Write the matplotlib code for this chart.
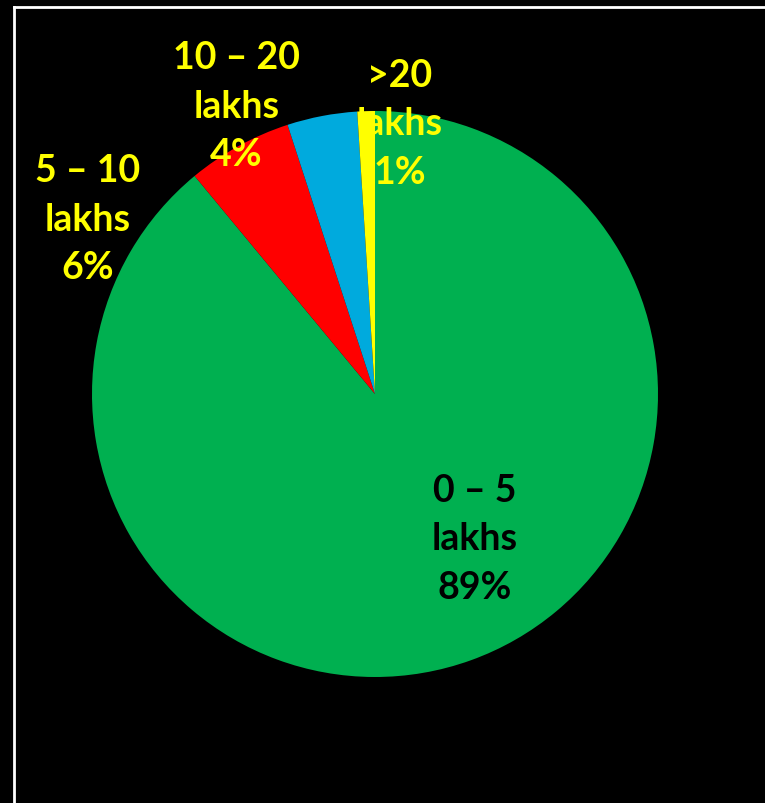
import numpy as np
import matplotlib.pyplot as plt

# data
categories = ['0 – 5\nlakhs', '5 – 10\nlakhs', '10 – 20\nlakhs', '>20\nlakhs']
shares = [89, 6, 4, 1]
colors = ['#00B050', '#FF0000', '#00AADD', '#FFFF00']
label_colors = ['black', '#FFFF00', '#FFFF00', '#FFFF00']
# label placement (angle deg, radius) relative to pie centre
label_pos = [(-55.4, 0.62), (148.6, 1.19), (115.7, 1.13), (84.7, 0.96)]

W, H = 765, 804
cx, cy, R = 375, 395, 283

fig = plt.figure(figsize=(W / 100, H / 100), dpi=100, facecolor='black')
ax = fig.add_axes([0, 0, 1, 1])
ax.set_facecolor('black')

ax.pie(shares, colors=colors, startangle=90, counterclock=False,
       radius=1.0, wedgeprops=dict(linewidth=0))

for cat, v, c, (ang, r) in zip(categories, shares, label_colors, label_pos):
    a = np.deg2rad(ang)
    ax.text(r * np.cos(a), r * np.sin(a), '%s\n%d%%' % (cat, v),
            ha='center', va='center', color=c, fontsize=27,
            fontweight='bold', family='Lato', linespacing=1.52)

ax.set_xlim(-cx / R, (W - cx) / R)
ax.set_ylim(-(H - cy) / R, cy / R)
ax.set_aspect('equal')
ax.axis('off')

# white frame line (left and top)
fig.add_artist(plt.Line2D([14 / W, 14 / W], [0, 1 - 8 / H], color='white', lw=2))
fig.add_artist(plt.Line2D([14 / W, 1], [1 - 8 / H, 1 - 8 / H], color='white', lw=2))

fig.savefig('out.png', dpi=100, facecolor='black')
